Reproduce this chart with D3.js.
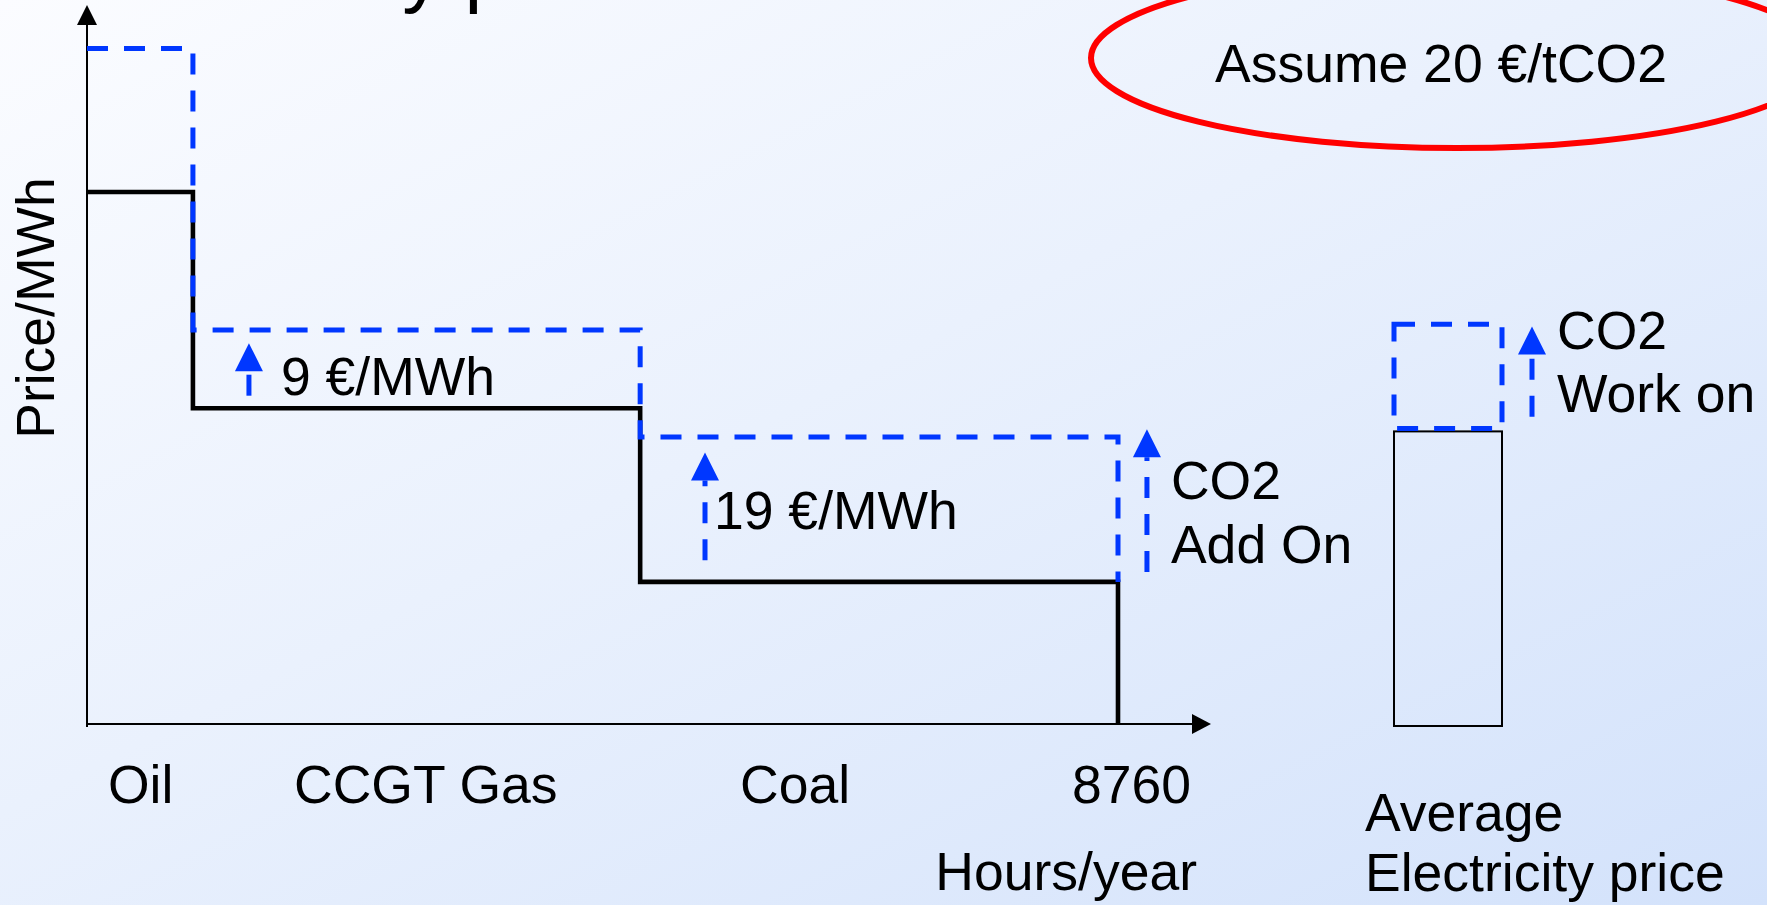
<!DOCTYPE html>
<html><head><meta charset="utf-8">
<script src="https://cdn.jsdelivr.net/npm/d3@7/dist/d3.min.js"></script>
<style>
body{margin:0;overflow:hidden;background:#fff}
svg{display:block}
text{font-family:"Liberation Sans",Arial,Helvetica,sans-serif;fill:#000}
</style>
</head><body>
<svg id="chart" width="1767" height="905"></svg>
<script>
// ---------------- data ----------------
const categories   = ["Oil", "CCGT Gas", "Coal"];
const hoursEnd     = [900, 4700, 8760];      // cumulative hours/year at end of each block
const priceBase    = [76, 45.1, 20.3];       // price/MWh without CO2 (relative units)
const priceCO2     = [96.5, 56.3, 41];       // price/MWh with CO2 add-on
const addOnLabels  = ["", "9 €/MWh", "19 €/MWh"];
const avgLabel     = ["Average", "Electricity price"];
const avgBase      = [41.8];
const avgCO2       = [57.1];
const xEndLabel    = "8760";
const xAxisTitle   = "Hours/year";
const yAxisTitle   = "Price/MWh";
const noteText     = "Assume 20 €/tCO2";
const titleText    = "Electricity price";

// ---------------- layout ----------------
const W = 1767, H = 905;
const svg = d3.select("#chart");
const BLUE = "#0037ff";
const FS = 53.5;

const x = d3.scaleLinear().domain([0, 8760]).range([87, 1118]);
const y = d3.scaleLinear().domain([0, 100]).range([724, 24]);
const xAvg = d3.scaleBand().domain(["avg"]).range([1394, 1502]).padding(0);

// background gradient
const defs = svg.append("defs");
const grad = defs.append("linearGradient").attr("id", "bg")
  .attr("x1", 0).attr("y1", 0).attr("x2", 1).attr("y2", 1);
grad.append("stop").attr("offset", "0%").attr("stop-color", "#fbfcff");
grad.append("stop").attr("offset", "45%").attr("stop-color", "#eaf1fd");
grad.append("stop").attr("offset", "100%").attr("stop-color", "#d3e2fb");
svg.append("rect").attr("width", W).attr("height", H).attr("fill", "url(#bg)");

// title (cut off at top of the slide, as in the original)
svg.append("text").attr("x", 100).attr("y", -3)
  .attr("font-size", 80).text(titleText);

// ---- axes ----
const x0 = x(0), y0 = y(0);
svg.append("line").attr("x1", x0).attr("x2", x0).attr("y1", y0 + 3).attr("y2", 22)
  .attr("stroke", "#000").attr("stroke-width", 2);
svg.append("path").attr("d", d3.line()([[x0, 5], [x0 - 10, 25], [x0 + 10, 25]]) + "Z").attr("fill", "#000");
svg.append("line").attr("x1", x0).attr("x2", 1195).attr("y1", y0).attr("y2", y0)
  .attr("stroke", "#000").attr("stroke-width", 2.2);
svg.append("path").attr("d", d3.line()([[1211, y0], [1192, y0 - 10], [1192, y0 + 10]]) + "Z").attr("fill", "#000");

// ---- step curves ----
function stepPath(vals, lastDrop) {
  const pts = [[x(0), y(vals[0])]];
  for (let i = 0; i < vals.length; i++) {
    pts.push([x(hoursEnd[i]), y(vals[i])]);
    const next = i < vals.length - 1 ? vals[i + 1] : lastDrop;
    pts.push([x(hoursEnd[i]), y(next)]);
  }
  return d3.line()(pts);
}
svg.append("path").attr("d", stepPath(priceBase, 0))
  .attr("fill", "none").attr("stroke", "#000").attr("stroke-width", 4.6)
  .attr("stroke-linejoin", "miter");
svg.append("path").attr("d", stepPath(priceCO2, priceBase[priceBase.length - 1]))
  .attr("fill", "none").attr("stroke", BLUE).attr("stroke-width", 5)
  .attr("stroke-dasharray", "21,16");

// ---- blue up-arrows ----
function upArrow(px, yTip, yBottom) {
  const head = 28, hw = 14;
  svg.append("line").attr("x1", px).attr("x2", px).attr("y1", yBottom).attr("y2", yTip + head)
    .attr("stroke", BLUE).attr("stroke-width", 5).attr("stroke-dasharray", "21,16");
  svg.append("path").attr("d", d3.line()([[px, yTip], [px - hw, yTip + head], [px + hw, yTip + head]]) + "Z")
    .attr("fill", BLUE);
}
upArrow(x(1376), y(54.4), y(46.9));
upArrow(x(5251), y(38.8), y(23.4));
upArrow(x(9006), y(42.1), y(21.7));

// add-on labels
svg.append("text").attr("x", x(1376) + 32).attr("y", 395).attr("font-size", FS).text(addOnLabels[1]);
svg.append("text").attr("x", x(5251) + 9).attr("y", 529).attr("font-size", FS).text(addOnLabels[2]);
svg.append("text").attr("x", x(9006) + 24).attr("y", 499).attr("font-size", FS).text("CO2");
svg.append("text").attr("x", x(9006) + 24).attr("y", 563).attr("font-size", FS).text("Add On");

// ---- average price bar ----
svg.append("rect").attr("x", xAvg("avg")).attr("width", xAvg.bandwidth())
  .attr("y", y(avgBase[0])).attr("height", y(0) - y(avgBase[0]) + 2)
  .attr("fill", "none").attr("stroke", "#000").attr("stroke-width", 2);
svg.append("rect").attr("x", xAvg("avg")).attr("width", xAvg.bandwidth())
  .attr("y", y(avgCO2[0])).attr("height", y(avgBase[0]) - y(avgCO2[0]) - 3)
  .attr("fill", "none").attr("stroke", BLUE).attr("stroke-width", 5)
  .attr("stroke-dasharray", "21,16");
const ax = xAvg("avg") + xAvg.bandwidth() + 30;
upArrow(ax, y(56.8), y(43.9));
svg.append("text").attr("x", ax + 25).attr("y", 349).attr("font-size", FS).text("CO2");
svg.append("text").attr("x", ax + 25).attr("y", 412).attr("font-size", FS).text("Work on");

// ---- category labels ----
const labelAnchor = [108, 294, 740];
categories.forEach((c, i) => {
  svg.append("text").attr("x", labelAnchor[i]).attr("y", 803).attr("font-size", FS).text(c);
});
svg.append("text").attr("x", 1191).attr("y", 803).attr("font-size", FS)
  .attr("text-anchor", "end").text(xEndLabel);
svg.append("text").attr("x", 1197).attr("y", 890).attr("font-size", FS)
  .attr("text-anchor", "end").text(xAxisTitle);
svg.append("text").attr("x", 1365).attr("y", 831).attr("font-size", FS).text(avgLabel[0]);
svg.append("text").attr("x", 1365).attr("y", 891).attr("font-size", FS).text(avgLabel[1]);

// y axis title
svg.append("text").attr("transform", "translate(54,308) rotate(-90)")
  .attr("text-anchor", "middle").attr("font-size", FS).text(yAxisTitle);

// ---- note ellipse ----
svg.append("ellipse").attr("cx", 1457).attr("cy", 58).attr("rx", 366).attr("ry", 90)
  .attr("fill", "none").attr("stroke", "#ff0000").attr("stroke-width", 6);
svg.append("text").attr("x", 1441).attr("y", 82).attr("font-size", FS)
  .attr("text-anchor", "middle").text(noteText);
</script>
</body></html>
